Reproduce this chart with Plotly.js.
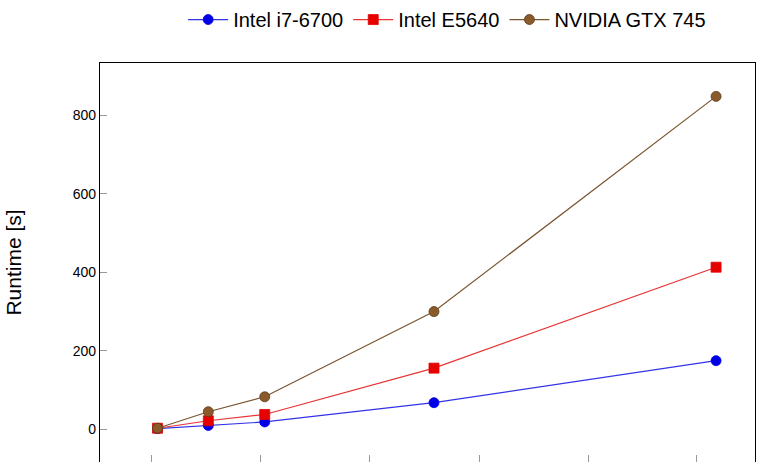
<!DOCTYPE html>
<html>
<head>
<script src="https://cdn.plot.ly/plotly-3.0.1.min.js"></script>
<style>body{margin:0;background:#fff}</style>
</head>
<body>
<div id="plot" style="width:769px;height:462px"></div>
<script>
var sizes = [1, 10, 20, 50, 100];
var i7 = [2, 10, 19, 68, 175];
var e5640 = [3, 22, 38, 156, 413];
var gtx = [3, 45, 83, 300, 848];

var names = ['Intel i7-6700', 'Intel E5640', 'NVIDIA GTX 745'];
var colors = ['#0000e6', '#e60000', '#8b5a2b'];
var lineColors = ['#3333e6', '#e63333', '#7a5530'];
var symbols = ['circle', 'square', 'circle'];
var series = [i7, e5640, gtx];

var data = [];
for (var i = 0; i < series.length; i++) {
  data.push({
    x: sizes,
    y: series[i],
    name: names[i],
    type: 'scatter',
    mode: 'lines+markers',
    line: {color: lineColors[i], width: 1.2},
    marker: {color: colors[i], symbol: symbols[i], size: 10,
             line: {color: i == 2 ? '#5a3a1a' : colors[i], width: 0.8}}
  });
}

var layout = {
  width: 769,
  height: 462,
  margin: {l: 100, r: 14, t: 58, b: 0},
  paper_bgcolor: '#fff',
  plot_bgcolor: '#fff',
  font: {family: 'Liberation Sans, Arial, sans-serif', size: 14, color: '#000'},
  showlegend: true,
  legend: {orientation: 'h', x: 0.53, xanchor: 'center', y: 1.06, yanchor: 'bottom',
           font: {size: 20}, itemwidth: 40, tracegroupgap: 0},
  xaxis: {
    range: [-9.2, 106.9],
    tickvals: [0, 19.3, 38.6, 58, 77.3, 96.6],
    showticklabels: false,
    showgrid: false, zeroline: false,
    ticks: 'inside', ticklen: 7, tickcolor: '#999',
    showline: true, linecolor: '#000', linewidth: 1.2, mirror: true
  },
  yaxis: {
    range: [-83, 933],
    tickvals: [0, 200, 400, 600, 800],
    showgrid: false, zeroline: false,
    ticks: 'inside', ticklen: 7, tickcolor: '#999',
    showline: true, linecolor: '#000', linewidth: 1.2, mirror: true,
    title: {text: 'Runtime [s]', font: {size: 21}, standoff: 45}
  }
};

Plotly.newPlot('plot', data, layout, {displayModeBar: false});
</script>
</body>
</html>
